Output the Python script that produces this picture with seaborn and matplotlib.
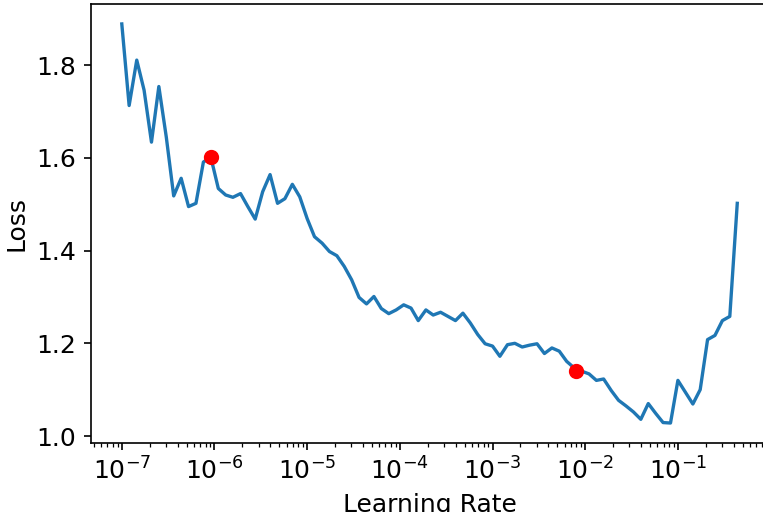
import matplotlib
matplotlib.use("Agg")
import matplotlib.pyplot as plt
import seaborn as sns
import pandas as pd

plt.rcParams["font.size"] = 12

# Learning rates swept during the range test
lrs = [
    1.00e-7, 1.20e-7, 1.45e-7, 1.74e-7, 2.09e-7, 2.51e-7, 3.02e-7, 3.63e-7, 4.37e-7, 5.25e-7,
    6.31e-7, 7.59e-7, 9.12e-7, 1.10e-6, 1.32e-6, 1.58e-6, 1.91e-6, 2.29e-6, 2.75e-6, 3.31e-6,
    3.98e-6, 4.79e-6, 5.75e-6, 6.92e-6, 8.32e-6, 1.00e-5, 1.20e-5, 1.45e-5, 1.74e-5, 2.09e-5,
    2.51e-5, 3.02e-5, 3.63e-5, 4.37e-5, 5.25e-5, 6.31e-5, 7.59e-5, 9.12e-5, 1.10e-4, 1.32e-4,
    1.58e-4, 1.91e-4, 2.29e-4, 2.75e-4, 3.31e-4, 3.98e-4, 4.79e-4, 5.75e-4, 6.92e-4, 8.32e-4,
    1.00e-3, 1.20e-3, 1.45e-3, 1.74e-3, 2.09e-3, 2.51e-3, 3.02e-3, 3.63e-3, 4.37e-3, 5.25e-3,
    6.31e-3, 7.59e-3, 9.12e-3, 1.10e-2, 1.32e-2, 1.58e-2, 1.91e-2, 2.29e-2, 2.75e-2, 3.31e-2,
    3.98e-2, 4.79e-2, 5.75e-2, 6.92e-2, 8.32e-2, 1.00e-1, 1.20e-1, 1.45e-1, 1.74e-1, 2.09e-1,
    2.51e-1, 3.02e-1, 3.63e-1, 4.37e-1,
]

# Smoothed training loss at each learning rate
losses = [
    1.889, 1.713, 1.811, 1.746, 1.634, 1.754, 1.645, 1.518, 1.556, 1.495,
    1.502, 1.591, 1.602, 1.534, 1.520, 1.515, 1.523, 1.495, 1.468, 1.527,
    1.564, 1.502, 1.512, 1.543, 1.516, 1.469, 1.430, 1.416, 1.398, 1.389,
    1.366, 1.337, 1.299, 1.285, 1.301, 1.275, 1.264, 1.272, 1.283, 1.276,
    1.249, 1.272, 1.261, 1.267, 1.258, 1.249, 1.265, 1.244, 1.219, 1.199,
    1.194, 1.172, 1.197, 1.200, 1.192, 1.196, 1.199, 1.178, 1.190, 1.183,
    1.161, 1.147, 1.140, 1.134, 1.120, 1.123, 1.098, 1.077, 1.065, 1.052,
    1.036, 1.070, 1.049, 1.029, 1.028, 1.120, 1.095, 1.069, 1.100, 1.208,
    1.217, 1.249, 1.258, 1.502,
]

# Suggested learning rates marked on the curve
suggest_lrs = [9.1e-7, 8.0e-3]
suggest_losses = [1.602, 1.141]

df = pd.DataFrame({"lr": lrs, "loss": losses})
marks = pd.DataFrame({"lr": suggest_lrs, "loss": suggest_losses})

fig = plt.figure(figsize=(763 / 150, 512 / 150), dpi=150)
ax = fig.add_axes([0.1193, 0.1348, 0.8873, 0.8574])

sns.lineplot(data=df, x="lr", y="loss", ax=ax, estimator=None, color="#1f77b4", linewidth=1.6)
sns.scatterplot(data=marks, x="lr", y="loss", ax=ax, color="red", edgecolor="red",
                s=40, linewidth=1, zorder=3)

ax.set_xscale("log")
ax.set_xlabel("Learning Rate")
ax.set_ylabel("Loss")
ax.set_yticks([1.0, 1.2, 1.4, 1.6, 1.8])

fig.savefig("out.png", dpi=150)
